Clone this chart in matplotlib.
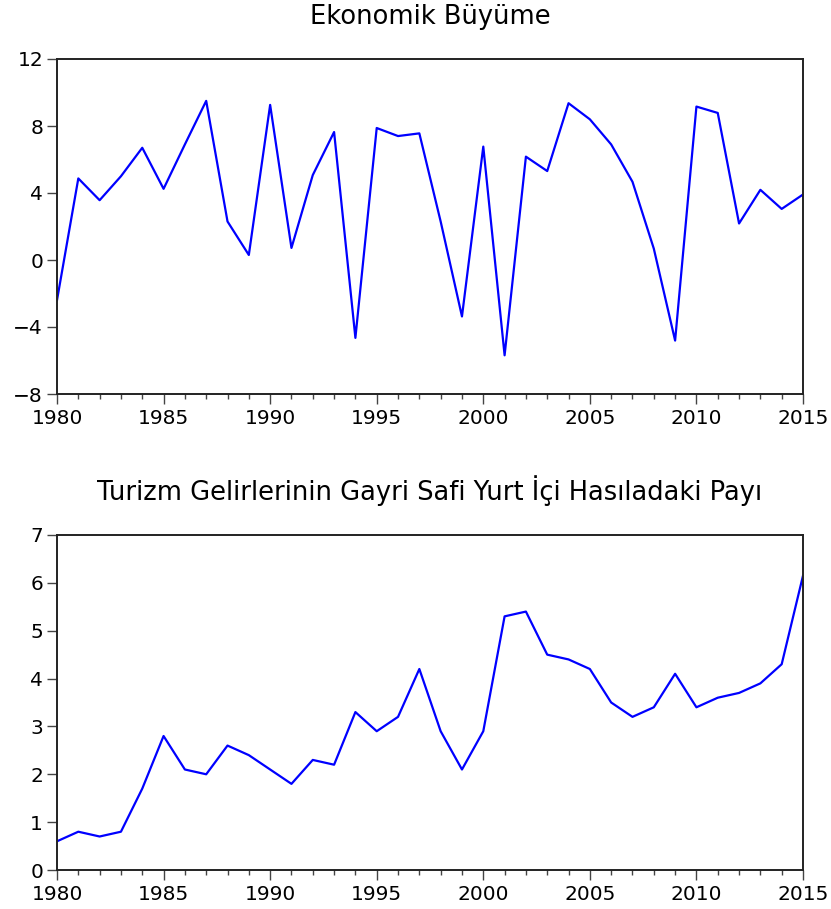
import matplotlib
matplotlib.use("Agg")
import matplotlib.pyplot as plt
from matplotlib.ticker import MultipleLocator

years = list(range(1980, 2016))

growth = [-2.4, 4.87, 3.57, 5.0, 6.7, 4.25, 6.9, 9.5, 2.3, 0.3,
          9.26, 0.72, 5.07, 7.64, -4.65, 7.88, 7.4, 7.56, 2.3, -3.37,
          6.77, -5.69, 6.17, 5.31, 9.36, 8.4, 6.9, 4.67, 0.68, -4.81,
          9.16, 8.78, 2.18, 4.19, 3.05, 3.91]

tourism_share = [0.6, 0.8, 0.7, 0.8, 1.7, 2.8, 2.1, 2.0, 2.6, 2.4,
                 2.1, 1.8, 2.3, 2.2, 3.3, 2.9, 3.2, 4.2, 2.9, 2.1,
                 2.9, 5.3, 5.4, 4.5, 4.4, 4.2, 3.5, 3.2, 3.4, 4.1,
                 3.4, 3.6, 3.7, 3.9, 4.3, 6.15]

title_top = "Ekonomik Büyüme"
title_bottom = "Turizm Gelirlerinin Gayri Safi Yurt İçi Hasıladaki Payı"
xticks = [1980, 1985, 1990, 1995, 2000, 2005, 2010, 2015]

plt.rcParams['font.family'] = ['DejaVu Sans']

W, H = 831, 909
fig = plt.figure(figsize=(W / 100, H / 100), dpi=100)

def frac(l, t, r, b):
    return [l / W, 1 - b / H, (r - l) / W, (b - t) / H]

ax1 = fig.add_axes(frac(57, 59, 803, 394))
ax2 = fig.add_axes(frac(57, 535, 803, 870))

def style(ax, title, ylim, ystep):
    ax.set_xlim(1980, 2015)
    ax.set_ylim(*ylim)
    ax.set_xticks(xticks)
    ax.xaxis.set_minor_locator(MultipleLocator(1))
    ax.yaxis.set_major_locator(MultipleLocator(ystep))
    for s in ax.spines.values():
        s.set_linewidth(1.4)
        s.set_color('#222222')
    ax.tick_params(axis='both', which='major', direction='out', length=7,
                   width=1.0, color='#444444', labelsize=14.5, labelcolor='black')
    ax.tick_params(axis='x', which='major', pad=4)
    ax.tick_params(axis='y', which='major', pad=3)
    ax.tick_params(axis='x', which='minor', direction='out', length=3.5,
                   width=1.0, color='#444444')
    ax.tick_params(axis='y', which='minor', left=False)
    ax.set_title(title, fontsize=18.5, pad=25)

ax1.plot(years, growth, color='#0000ff', linewidth=1.6)
style(ax1, title_top, (-8, 12), 4)

ax2.plot(years, tourism_share, color='#0000ff', linewidth=1.6)
style(ax2, title_bottom, (0, 7), 1)

fig.savefig("out.png", dpi=100)
